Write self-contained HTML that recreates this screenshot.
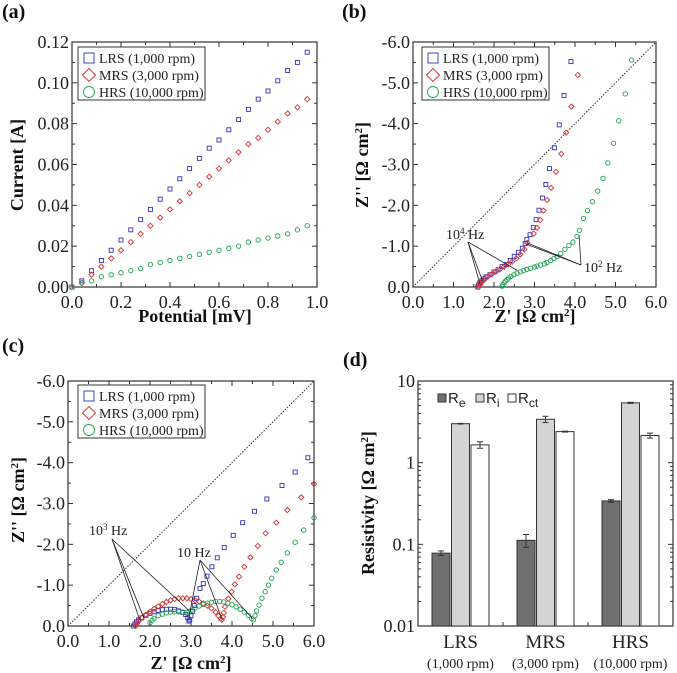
<!DOCTYPE html>
<html><head><meta charset="utf-8"><style>
body{margin:0;background:#fff}
svg{display:block;font-family:"Liberation Serif",serif}
text{font-family:"Liberation Serif",serif}
</style></head><body>
<svg id="fig" width="677" height="673" viewBox="0 0 677 673" xmlns="http://www.w3.org/2000/svg"></svg>
<script>
// ---------- DATA ----------
const aX=[0,0.04,0.08,0.12,0.16,0.2,0.24,0.28,0.32,0.36,0.4,0.44,0.48,0.52,0.56,0.6,0.64,0.68,0.72,0.76,0.8,0.84,0.88,0.92,0.96];
const aLRS=[0,0.003,0.008,0.013,0.018,0.023,0.028,0.033,0.038,0.043,0.048,0.053,0.058,0.063,0.068,0.072,0.077,0.082,0.087,0.092,0.096,0.101,0.106,0.110,0.115];
const aMRS=[0,0.002,0.006,0.010,0.014,0.018,0.022,0.026,0.030,0.034,0.038,0.042,0.046,0.050,0.054,0.058,0.062,0.066,0.070,0.073,0.077,0.081,0.085,0.088,0.092];
const aHRS=[0,0.002,0.003,0.005,0.006,0.007,0.008,0.009,0.011,0.012,0.013,0.014,0.015,0.016,0.017,0.018,0.019,0.020,0.022,0.023,0.024,0.025,0.026,0.028,0.030];
const aXTicks=[0,0.2,0.4,0.6,0.8,1.0];
const aYTicks=[0,0.02,0.04,0.06,0.08,0.10,0.12];

const bLRSx=[1.6,1.62,1.65,1.7,1.75,1.8,1.9,2.0,2.1,2.2,2.3,2.4,2.5,2.6,2.7,2.77,2.81,2.89,2.97,3.04,3.11,3.2,3.28,3.37,3.49,3.61,3.73,3.9];
const bLRSy=[0,0.05,0.1,0.15,0.2,0.25,0.3,0.37,0.42,0.5,0.55,0.65,0.75,0.85,0.95,1.06,1.16,1.28,1.46,1.65,1.88,2.18,2.51,2.9,3.41,3.97,4.69,5.52];
const bMRSx=[1.62,1.65,1.68,1.72,1.78,1.85,1.95,2.05,2.15,2.25,2.35,2.45,2.55,2.65,2.75,2.82,2.98,3.06,3.14,3.22,3.31,3.41,3.53,3.66,3.78,3.91,4.07];
const bMRSy=[0,0.05,0.1,0.15,0.2,0.26,0.32,0.38,0.44,0.5,0.56,0.62,0.7,0.8,0.92,1.08,1.31,1.45,1.64,1.87,2.13,2.43,2.82,3.26,3.78,4.42,5.19];
const bHRSx=[2.2,2.22,2.25,2.28,2.32,2.36,2.42,2.49,2.57,2.65,2.73,2.81,2.9,3.0,3.06,3.15,3.25,3.31,3.4,3.48,3.56,3.65,3.75,3.85,3.95,4.05,4.11,4.21,4.31,4.43,4.56,4.69,4.81,4.95,5.08,5.24,5.4];
const bHRSy=[0.02,0.06,0.1,0.14,0.18,0.22,0.26,0.3,0.34,0.37,0.4,0.43,0.46,0.49,0.51,0.54,0.57,0.6,0.65,0.7,0.74,0.82,0.92,1.02,1.1,1.24,1.39,1.68,1.87,2.09,2.35,2.66,3.04,3.52,4.07,4.73,5.56];

const cLRSx=[1.6,1.63,1.67,1.72,1.8,1.9,2.0,2.1,2.2,2.3,2.4,2.5,2.6,2.7,2.8,2.87,2.92,2.95,2.97,3.0,3.04,3.08,3.13,3.22,3.3,3.39,3.51,3.64,3.81,4.03,4.26,4.55,4.85,5.22,5.54,5.85];
const cLRSy=[0,0.05,0.1,0.15,0.2,0.26,0.31,0.35,0.38,0.4,0.41,0.41,0.4,0.37,0.33,0.28,0.2,0.12,0.15,0.25,0.36,0.5,0.68,0.92,1.04,1.22,1.45,1.67,1.92,2.22,2.53,2.81,3.11,3.44,3.77,4.12];
const cMRSx=[1.65,1.68,1.72,1.8,1.9,2.0,2.1,2.2,2.3,2.4,2.5,2.6,2.7,2.8,2.9,3.0,3.1,3.2,3.3,3.4,3.5,3.6,3.67,3.72,3.75,3.78,3.8,3.83,3.91,3.99,4.07,4.17,4.3,4.45,4.63,4.82,5.08,5.35,5.69,6.0];
const cMRSy=[0,0.06,0.12,0.2,0.28,0.35,0.42,0.48,0.54,0.59,0.63,0.66,0.68,0.68,0.68,0.66,0.63,0.6,0.55,0.5,0.43,0.34,0.25,0.18,0.15,0.22,0.32,0.47,0.67,0.84,1.02,1.21,1.45,1.68,1.96,2.27,2.53,2.84,3.15,3.48];
const cHRSx=[2.0,2.05,2.1,2.2,2.3,2.4,2.5,2.6,2.7,2.8,2.9,2.95,3.0,3.1,3.2,3.3,3.4,3.5,3.6,3.7,3.8,3.9,4.0,4.1,4.2,4.3,4.4,4.48,4.52,4.56,4.6,4.66,4.73,4.81,4.89,4.97,5.08,5.2,5.35,5.54,5.75,6.0];
const cHRSy=[0.08,0.14,0.19,0.25,0.29,0.32,0.34,0.35,0.35,0.34,0.34,0.35,0.38,0.44,0.49,0.53,0.56,0.58,0.6,0.6,0.59,0.56,0.52,0.47,0.41,0.34,0.26,0.18,0.15,0.25,0.37,0.51,0.68,0.84,1.0,1.17,1.37,1.56,1.79,2.05,2.35,2.65];
const zTicks=[0,1,2,3,4,5,6];

const dCats=["LRS","MRS","HRS"];
const dSub=["(1,000 rpm)","(3,000 rpm)","(10,000 rpm)"];
const dRe=[0.078,0.112,0.34];
const dRi=[3.0,3.4,5.4];
const dRct=[1.65,2.4,2.15];
const dReErr=[0.005,0.02,0.012];
const dRiErr=[0.03,0.3,0.08];
const dRctErr=[0.15,0.03,0.15];
const dTicks=[0.01,0.1,1,10];
const dTickLabels=["0.01","0.1","1","10"];

// ---------- HELPERS ----------
const NS="http://www.w3.org/2000/svg";
const svg=document.getElementById('fig');
function mk(tag,attrs,parent,text){const e=document.createElementNS(NS,tag);for(const k in attrs)e.setAttribute(k,attrs[k]);if(text!==undefined)e.textContent=text;(parent||svg).appendChild(e);return e;}
function lin(d0,d1,r0,r1){return v=>r0+(v-d0)/(d1-d0)*(r1-r0);}
const COL={LRS:"#3030b8",MRS:"#d83030",HRS:"#20a050"};
const SHAPE={LRS:"sq",MRS:"dia",HRS:"circ"};
function marker(g,shape,x,y,s,color){
  let e;
  if(shape==="sq")e=mk('rect',{x:x-s,y:y-s,width:2*s,height:2*s,fill:'none',stroke:color,'stroke-width':0.9},g);
  else if(shape==="dia")e=mk('polygon',{points:`${x},${y-s*1.3} ${x+s*1.3},${y} ${x},${y+s*1.3} ${x-s*1.3},${y}`,fill:'none',stroke:color,'stroke-width':0.9},g);
  else e=mk('circle',{cx:x,cy:y,r:s*1.1,fill:'none',stroke:color,'stroke-width':0.9},g);
  return e;
}
function frame(g,L,R,T,B){
  const r=mk('rect',{x:L,y:T,width:R-L,height:B-T,fill:'none',stroke:'#333','stroke-width':1.2},g);
  
}
function xAxis(g,ticks,sx,T,B,fmt){
  ticks.forEach(t=>{const x=sx(t);
    mk('line',{x1:x,y1:B,x2:x,y2:B-5,stroke:'#333'},g);mk('line',{x1:x,y1:T,x2:x,y2:T+5,stroke:'#333'},g);
    const tx=mk('text',{x:x,y:B+21,'text-anchor':'middle','font-size':18,fill:'#222'},g,fmt(t));
    });
  for(let i=0;i<ticks.length-1;i++){const m=(ticks[i]+ticks[i+1])/2;const x=sx(m);
    mk('line',{x1:x,y1:B,x2:x,y2:B-3,stroke:'#333'},g);mk('line',{x1:x,y1:T,x2:x,y2:T+3,stroke:'#333'},g);}
}
function yAxis(g,ticks,sy,L,R,fmt){
  ticks.forEach(t=>{const y=sy(t);
    mk('line',{x1:L,y1:y,x2:L+5,y2:y,stroke:'#333'},g);mk('line',{x1:R,y1:y,x2:R-5,y2:y,stroke:'#333'},g);
    const tx=mk('text',{x:L-3,y:y+6,'text-anchor':'end','font-size':18,fill:'#222'},g,fmt(t));
    });
  for(let i=0;i<ticks.length-1;i++){const y=sy((ticks[i]+ticks[i+1])/2);
    mk('line',{x1:L,y1:y,x2:L+3,y2:y,stroke:'#333'},g);mk('line',{x1:R,y1:y,x2:R-3,y2:y,stroke:'#333'},g);}
}
function legend(g,x,y){
  const box=mk('rect',{x:x,y:y,width:127,height:53,fill:'#fff',stroke:'#333','stroke-width':1},g);
  
  const items=[["LRS","LRS (1,000 rpm)"],["MRS","MRS (3,000 rpm)"],["HRS","HRS (10,000 rpm)"]];
  items.forEach((it,i)=>{const yy=y+11+i*17;
    const m=marker(g,SHAPE[it[0]],x+11,yy,5,COL[it[0]]);
    
    const t=mk('text',{x:x+21,y:yy+5,'font-size':14,fill:'#222'},g,it[1]);
    });
}
function panelLabel(txt,x,y){const t=mk('text',{x:x,y:y,'font-size':20,'font-weight':'bold',fill:'#111'},svg,txt);
  }
function zTitleX(g,cx,y){const t=mk('text',{x:cx,y:y,'text-anchor':'middle','font-size':18,'font-weight':'bold',fill:'#111'},g);
  
  t.innerHTML="Z' [Ω cm<tspan dy='-6' font-size='11'>2</tspan><tspan dy='6'>]</tspan>";}
function zTitleY(g,x,cy){const t=mk('text',{x:0,y:0,'text-anchor':'middle','font-size':18,'font-weight':'bold',fill:'#111',transform:`translate(${x},${cy}) rotate(-90)`},g);
  
  t.innerHTML="Z'' [Ω cm<tspan dy='-6' font-size='11'>2</tspan><tspan dy='6'>]</tspan>";}
function series(g,xs,ys,sx,sy,key,name){
  const sg=mk('g',{},g);
  xs.forEach((v,i)=>{const p=marker(sg,SHAPE[key],sx(v),sy(ys[i]),2,COL[key]);
    });
}
function fmt1(v){return v.toFixed(1);}
function fmtNeg(v){return v===0?"0.0":"-"+v.toFixed(1);}

// ---------- PANEL A ----------
(function(){
  const g=mk('g',{});
  const L=72,R=317,T=42,B=287;
  const sx=lin(0,1,L,R),sy=lin(0,0.12,B,T);
  frame(g,L,R,T,B);
  xAxis(g,aXTicks,sx,T,B,fmt1);
  yAxis(g,aYTicks,sy,L,R,v=>v.toFixed(2));
  series(g,aX,aLRS,sx,sy,"LRS","series-lrs");
  series(g,aX,aMRS,sx,sy,"MRS","series-mrs");
  series(g,aX,aHRS,sx,sy,"HRS","series-hrs");
  legend(g,78,47);
  const xt=mk('text',{x:195,y:322,'text-anchor':'middle','font-size':18,'font-weight':'bold',fill:'#111'},g,"Potential [mV]");
  
  const yt=mk('text',{x:0,y:0,'text-anchor':'middle','font-size':18,'font-weight':'bold',fill:'#111',transform:'translate(23,165) rotate(-90)'},g,"Current [A]");
  
})();
panelLabel("(a)",2,18);

// ---------- PANEL B ----------
(function(){
  const g=mk('g',{});
  const L=413,R=656,T=42,B=287;
  const sx=lin(0,6,L,R),sy=lin(0,6,B,T);
  frame(g,L,R,T,B);
  const d=mk('line',{x1:sx(0),y1:sy(0),x2:sx(6),y2:sy(6),stroke:'#333','stroke-dasharray':'1.5,1.5'},g);
  
  xAxis(g,zTicks,sx,T,B,fmt1);
  yAxis(g,zTicks,sy,L,R,fmtNeg);
  series(g,bLRSx,bLRSy,sx,sy,"LRS","series-lrs");
  series(g,bMRSx,bMRSy,sx,sy,"MRS","series-mrs");
  series(g,bHRSx,bHRSy,sx,sy,"HRS","series-hrs");
  legend(g,422,47);
  const a1=mk('text',{x:446,y:239,'font-size':14,fill:'#222'},g);a1.innerHTML="10<tspan dy='-5' font-size='9'>4</tspan><tspan dy='5'> Hz</tspan>";
  
  [[1.65,0.08],[1.72,0.14],[2.57,0.41]].forEach(p=>mk('line',{x1:468,y1:242,x2:sx(p[0]),y2:sy(p[1]),stroke:'#222','stroke-width':0.8},g));
  const a2=mk('text',{x:584,y:272,'font-size':14,fill:'#222'},g);a2.innerHTML="10<tspan dy='-5' font-size='9'>2</tspan><tspan dy='5'> Hz</tspan>";
  
  [[2.77,1.06],[2.82,1.08],[4.1,1.27]].forEach(p=>mk('line',{x1:581,y1:265,x2:sx(p[0]),y2:sy(p[1]),stroke:'#222','stroke-width':0.8},g));
  zTitleX(g,535,322);zTitleY(g,368,165);
})();
panelLabel("(b)",342,18);

// ---------- PANEL C ----------
(function(){
  const g=mk('g',{});
  const L=68,R=314,T=381,B=626;
  const sx=lin(0,6,L,R),sy=lin(0,6,B,T);
  frame(g,L,R,T,B);
  const d=mk('line',{x1:sx(0),y1:sy(0),x2:sx(6),y2:sy(6),stroke:'#333','stroke-dasharray':'1.5,1.5'},g);
  
  xAxis(g,zTicks,sx,T,B,fmt1);
  yAxis(g,zTicks,sy,L,R,fmtNeg);
  series(g,cLRSx,cLRSy,sx,sy,"LRS","series-lrs");
  series(g,cMRSx,cMRSy,sx,sy,"MRS","series-mrs");
  series(g,cHRSx,cHRSy,sx,sy,"HRS","series-hrs");
  legend(g,78,385);
  const a1=mk('text',{x:89,y:535,'font-size':14,fill:'#222'},g);a1.innerHTML="10<tspan dy='-5' font-size='9'>3</tspan><tspan dy='5'> Hz</tspan>";
  
  [[1.75,0.15],[1.85,0.2],[2.95,0.38]].forEach(p=>mk('line',{x1:112,y1:539,x2:sx(p[0]),y2:sy(p[1]),stroke:'#222','stroke-width':0.8},g));
  const a2=mk('text',{x:177,y:557,'font-size':14,fill:'#222'},g,"10 Hz");
  
  [[2.95,0.22],[3.75,0.18],[4.5,0.18]].forEach(p=>mk('line',{x1:200,y1:560,x2:sx(p[0]),y2:sy(p[1]),stroke:'#222','stroke-width':0.8},g));
  zTitleX(g,191,669);zTitleY(g,24,500);
})();
panelLabel("(c)",2,352);

// ---------- PANEL D ----------
(function(){
  const g=mk('g',{});
  const L=418,R=673,T=381,B=626;
  const ly=lin(Math.log10(0.01),Math.log10(10),B,T);
  const sy=v=>ly(Math.log10(v));
  const band=(R-L)/dCats.length;
  frame(g,L,R,T,B);
  dTicks.forEach((t,i)=>{const y=sy(t);
    mk('line',{x1:L,y1:y,x2:L+5,y2:y,stroke:'#333'},g);mk('line',{x1:R,y1:y,x2:R-5,y2:y,stroke:'#333'},g);
    const tx=mk('text',{x:L-3,y:y+6,'text-anchor':'end','font-size':18,fill:'#222'},g,dTickLabels[i]);
    
    if(i<dTicks.length-1)for(let k=2;k<10;k++){const yy=sy(t*k);
      mk('line',{x1:L,y1:yy,x2:L+3,y2:yy,stroke:'#333'},g);mk('line',{x1:R,y1:yy,x2:R-3,y2:yy,stroke:'#333'},g);}
  });
  const sets=[[dRe,dReErr,"#707070","bar-re"],[dRi,dRiErr,"#d4d4d4","bar-ri"],[dRct,dRctErr,"#ffffff","bar-rct"]];
  const bw=18;
  dCats.forEach((c,ci)=>{const cx=L+band*(ci+0.5);
    mk('line',{x1:L+band*(ci+1),y1:B,x2:L+band*(ci+1),y2:B-4,stroke:'#333'},g);
    sets.forEach((s,si)=>{const x=cx+(si-1)*(bw+1.5)-bw/2;const v=s[0][ci],e=s[1][ci];
      const r=mk('rect',{x:x,y:sy(v),width:bw,height:B-sy(v),fill:s[2],stroke:'#333','stroke-width':1},g);
      
      const xm=x+bw/2;
      mk('line',{x1:xm,y1:sy(v+e),x2:xm,y2:sy(Math.max(v-e,0.001)),stroke:'#333'},g);
      mk('line',{x1:xm-3,y1:sy(v+e),x2:xm+3,y2:sy(v+e),stroke:'#333'},g);
      mk('line',{x1:xm-3,y1:sy(v-e),x2:xm+3,y2:sy(v-e),stroke:'#333'},g);
    });
    const t=mk('text',{x:cx,y:648,'text-anchor':'middle','font-size':19,fill:'#222'},g,c);
    
    const t2=mk('text',{x:cx,y:668,'text-anchor':'middle','font-size':14,fill:'#222'},g,dSub[ci]);
    
  });
  const lg=mk('g',{},g);
  [["#707070","e",438],["#d4d4d4","i",476],["#ffffff","ct",508]].forEach(l=>{
    mk('rect',{x:l[2],y:394,width:8,height:8,fill:l[0],stroke:'#333'},lg);
    const t=mk('text',{x:l[2]+10,y:403,'font-size':15,fill:'#222',style:'font-family:"Liberation Sans",sans-serif'},lg);
    t.innerHTML="R<tspan dy='4' font-size='12'>"+l[1]+"</tspan>";
    
  });
  const yt=mk('text',{x:0,y:0,'text-anchor':'middle','font-size':18,'font-weight':'bold',fill:'#111',transform:'translate(374,503) rotate(-90)'},g);
  yt.innerHTML="Resistivity [Ω cm<tspan dy='-6' font-size='11'>2</tspan><tspan dy='6'>]</tspan>";
  
})();
panelLabel("(d)",343,366);
</script>
</body></html>
